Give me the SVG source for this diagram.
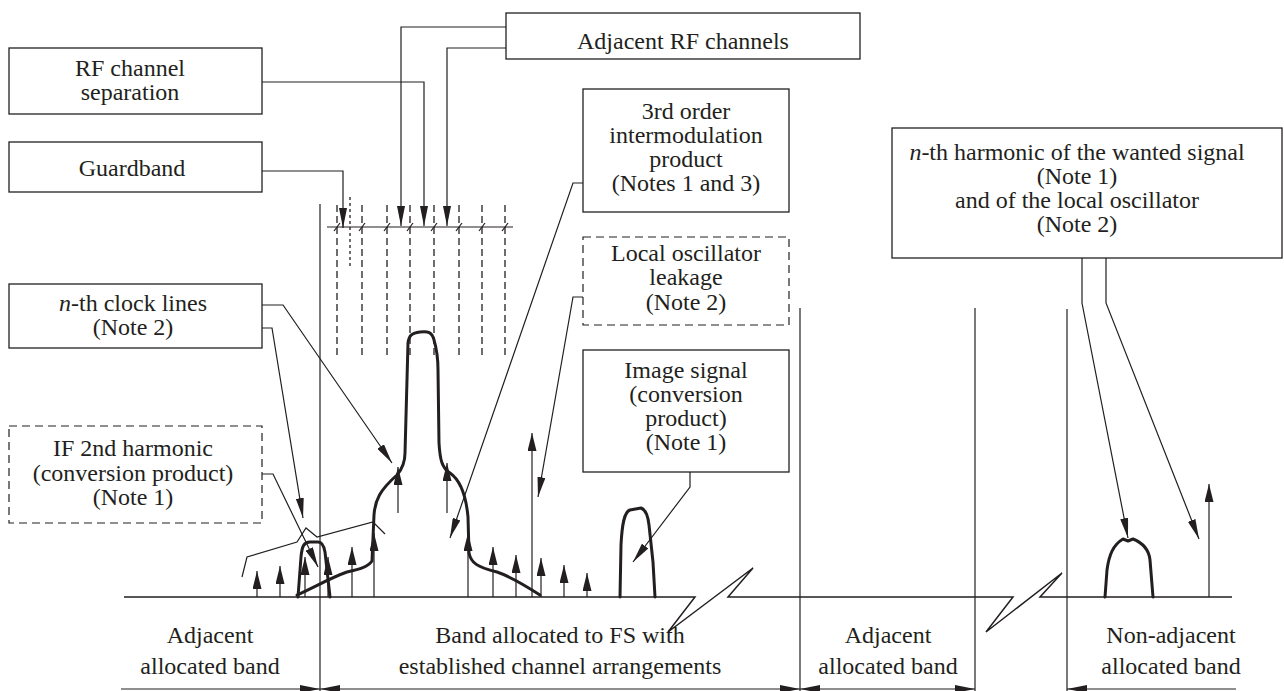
<svg xmlns="http://www.w3.org/2000/svg" width="1284" height="691" viewBox="0 0 1284 691">
<style>
.box{fill:#fff;stroke:#231f20;stroke-width:1.3}
.dbox{fill:#fff;stroke:#231f20;stroke-width:1.2;stroke-dasharray:8 5}
.t{font-family:"Liberation Serif","Times New Roman",serif;font-size:24px;fill:#231f20;text-anchor:middle}
.ln{stroke:#231f20;stroke-width:1.2;fill:none}
.ax{stroke:#231f20;stroke-width:1.5;fill:none}
.sp{stroke:#231f20;stroke-width:3;fill:none;stroke-linejoin:round;stroke-linecap:round}
.dash{stroke:#231f20;stroke-width:1.3;stroke-dasharray:7 4;fill:none}
.dot{stroke:#231f20;stroke-width:1.3;stroke-dasharray:3 3;fill:none}
.arr{marker-end:url(#a)}
.up{stroke:#231f20;stroke-width:1.2;fill:none;marker-end:url(#s)}
</style>
<defs>
<marker id="a" markerUnits="userSpaceOnUse" markerWidth="20" markerHeight="8" refX="20" refY="4" orient="auto-start-reverse"><path d="M0,0 L20,4 L0,8 z" fill="#231f20"/></marker>
<marker id="s" markerUnits="userSpaceOnUse" markerWidth="18" markerHeight="9" refX="18" refY="4.5" orient="auto"><path d="M0,0 L18,4.5 L0,9 z" fill="#231f20"/></marker>
</defs>
<rect width="1284" height="691" fill="#fff"/>

<g id="frame">
<line class="ln" x1="320" y1="204" x2="320" y2="691"/>
<line class="ln" x1="800" y1="308" x2="800" y2="691"/>
<line class="ln" x1="975" y1="308" x2="975" y2="691"/>
<line class="ln" x1="1067" y1="309" x2="1067" y2="691"/>
<path class="ax" d="M124 597 H695 L668 632 L753 568 L728 597 H1013 L986 632 L1062 573 L1040 597 H1232"/>
<line class="ln" x1="121" y1="689" x2="320" y2="689" marker-end="url(#a)"/>
<line class="ln" x1="320" y1="689" x2="800" y2="689" marker-start="url(#a)" marker-end="url(#a)"/>
<line class="ln" x1="800" y1="689" x2="975" y2="689" marker-start="url(#a)" marker-end="url(#a)"/>
<line class="ln" x1="1067" y1="689" x2="1236" y2="689" marker-start="url(#a)"/>
<line class="ln" x1="327" y1="227" x2="513" y2="227"/>
<g>
<line class="dash" x1="337" y1="205" x2="337" y2="357"/>
<line class="dash" x1="362" y1="205" x2="362" y2="357"/>
<line class="dash" x1="387" y1="205" x2="387" y2="357"/>
<line class="dash" x1="410" y1="205" x2="410" y2="357"/>
<line class="dash" x1="434" y1="205" x2="434" y2="357"/>
<line class="dash" x1="459" y1="205" x2="459" y2="357"/>
<line class="dash" x1="482" y1="205" x2="482" y2="357"/>
<line class="dash" x1="505" y1="205" x2="505" y2="357"/>
<line class="dot" x1="350" y1="197" x2="350" y2="268"/>
</g>
<g class="ln">
<line x1="334" y1="231" x2="340" y2="223"/>
<line x1="359" y1="231" x2="365" y2="223"/>
<line x1="384" y1="231" x2="390" y2="223"/>
<line x1="407" y1="231" x2="413" y2="223"/>
<line x1="431" y1="231" x2="437" y2="223"/>
<line x1="456" y1="231" x2="462" y2="223"/>
<line x1="479" y1="231" x2="485" y2="223"/>
<line x1="502" y1="231" x2="508" y2="223"/>
</g>
</g>

<g id="spectrum">
<path class="sp" d="M297 595 C315 587 330 578 347 572 C360 569 368 567 372 561 L374 515 C375 500 380 490 397 475 C403 468 405 462 405 453 L408 343 C409 335 412 333 420 332 C428 331 432 332 434 340 C437 350 438 360 438 370 L439 443 C440 460 442 468 450 473 C460 480 466 495 468 517 L469 553 C471 563 477 567 497 572 C512 577 526 586 540 595"/>
<path class="sp" d="M298 597 L301 557 C302 546 304 542 310 542 L318 542 C322 542 324 546 325 552 L330 597"/>
<path class="sp" d="M620 597 L621 545 C622 525 624 512 630 510 L641 508 C646 510 648 515 649 525 L653 562 L655 597"/>
<path class="sp" d="M1105 597 L1107 570 C1109 555 1113 545 1123 539 L1128 541 L1133 539 C1143 543 1149 550 1150 560 L1153 597"/>
<path class="ln" d="M242 577 L247 557 L297 542 L306 528 L317 537 L373 522 L385 534"/>
<g>
<line class="up" x1="257" y1="597" x2="257" y2="571"/>
<line class="up" x1="280" y1="597" x2="280" y2="566"/>
<line class="up" x1="305" y1="597" x2="305" y2="557"/>
<line class="up" x1="328" y1="597" x2="328" y2="557"/>
<line class="up" x1="352" y1="597" x2="352" y2="547"/>
<line class="up" x1="374" y1="597" x2="374" y2="533"/>
<line class="up" x1="398" y1="513" x2="398" y2="467"/>
<line class="up" x1="447" y1="513" x2="447" y2="463"/>
<line class="up" x1="468" y1="597" x2="468" y2="533"/>
<line class="up" x1="493" y1="597" x2="493" y2="547"/>
<line class="up" x1="516" y1="597" x2="516" y2="555"/>
<line class="up" x1="532" y1="597" x2="532" y2="433"/>
<line class="up" x1="541" y1="597" x2="541" y2="558"/>
<line class="up" x1="564" y1="597" x2="564" y2="565"/>
<line class="up" x1="587" y1="597" x2="587" y2="573"/>
<line class="up" x1="1209" y1="597" x2="1209" y2="484"/>
</g>
</g>

<g id="rf-channels">
<rect class="box" x="506" y="13" width="354" height="46"/>
<text class="t" x="683" y="49">Adjacent RF channels</text>
</g>
<g id="rf-separation">
<rect class="box" x="9" y="48" width="253" height="66"/>
<text class="t"><tspan x="130" y="76">RF channel</tspan><tspan x="130" y="100">separation</tspan></text>
</g>
<g id="guardband">
<rect class="box" x="9" y="142" width="253" height="50"/>
<text class="t" x="132" y="176">Guardband</text>
</g>
<g id="clock-lines">
<rect class="box" x="9" y="284" width="253" height="64"/>
<text class="t"><tspan x="133" y="311"><tspan font-style="italic">n</tspan>-th clock lines</tspan><tspan x="133" y="335">(Note 2)</tspan></text>
</g>
<g id="if-harmonic">
<rect class="dbox" x="9" y="426" width="253" height="97"/>
<text class="t"><tspan x="133" y="456">IF 2nd harmonic</tspan><tspan x="133" y="481">(conversion product)</tspan><tspan x="133" y="505">(Note 1)</tspan></text>
</g>
<g id="intermod">
<rect class="box" x="583" y="89" width="206" height="123"/>
<text class="t"><tspan x="686" y="119">3rd order</tspan><tspan x="686" y="143">intermodulation</tspan><tspan x="686" y="167">product</tspan><tspan x="686" y="191">(Notes 1 and 3)</tspan></text>
</g>
<g id="lo-leakage">
<rect class="dbox" x="583" y="237" width="206" height="88"/>
<text class="t"><tspan x="686" y="261">Local oscillator</tspan><tspan x="686" y="285">leakage</tspan><tspan x="686" y="310">(Note 2)</tspan></text>
</g>
<g id="image-signal">
<rect class="box" x="583" y="350" width="206" height="122"/>
<text class="t"><tspan x="686" y="378">Image signal</tspan><tspan x="686" y="402">(conversion</tspan><tspan x="686" y="426">product)</tspan><tspan x="686" y="450">(Note 1)</tspan></text>
</g>
<g id="nth-harmonic">
<rect class="box" x="892" y="128" width="390" height="130"/>
<text class="t"><tspan x="1077" y="160"><tspan font-style="italic">n</tspan>-th harmonic of the wanted signal</tspan><tspan x="1077" y="184">(Note 1)</tspan><tspan x="1077" y="208">and of the local oscillator</tspan><tspan x="1077" y="232">(Note 2)</tspan></text>
</g>

<g id="connectors">
<polyline class="ln arr" points="506,27 401,27 401,226"/>
<polyline class="ln arr" points="506,48 447,48 447,226"/>
<polyline class="ln arr" points="262,82 424,82 424,226"/>
<polyline class="ln arr" points="262,171 343,171 343,228"/>
<polyline class="ln arr" points="262,305 283,305 392,463"/>
<polyline class="ln arr" points="262,328 272,328 303,518"/>
<polyline class="ln arr" points="262,474 273,474 318,567"/>
<polyline class="ln arr" points="583,183 573,183 450,538"/>
<polyline class="ln arr" points="583,297 573,297 538,497"/>
<polyline class="ln arr" points="690,472 690,487 633,562"/>
<polyline class="ln arr" points="1082,258 1082,303 1128,538"/>
<polyline class="ln arr" points="1106,258 1106,303 1199,539"/>
</g>

<g id="band-labels">
<text class="t"><tspan x="210" y="643">Adjacent</tspan><tspan x="210" y="674">allocated band</tspan></text>
<text class="t"><tspan x="560" y="643">Band allocated to FS with</tspan><tspan x="560" y="674">established channel arrangements</tspan></text>
<text class="t"><tspan x="888" y="643">Adjacent</tspan><tspan x="888" y="674">allocated band</tspan></text>
<text class="t"><tspan x="1171" y="643">Non-adjacent</tspan><tspan x="1171" y="674">allocated band</tspan></text>
</g>
</svg>
